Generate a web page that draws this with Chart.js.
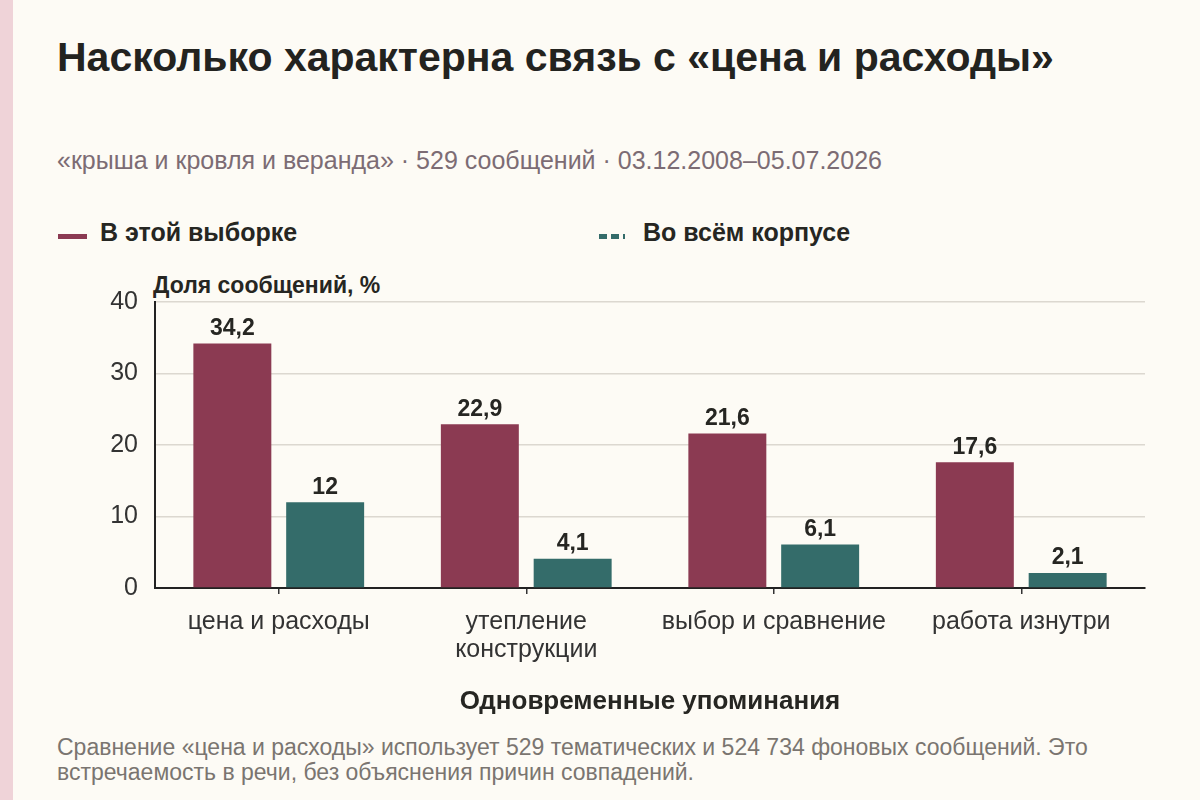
<!DOCTYPE html>
<html>
<head>
<meta charset="utf-8">
<script src="https://cdn.jsdelivr.net/npm/chart.js@4"></script>
<style>
  html, body { margin: 0; padding: 0; }
  body {
    width: 1200px; height: 800px; overflow: hidden; position: relative;
    background: #fdfbf5; font-family: "Liberation Sans", Arial, sans-serif; color: #222;
  }
  .band { position: absolute; left: 0; top: 0; width: 13px; height: 800px; background: #efd3d8; }
  .title { position: absolute; left: 57px; top: 34px; font-size: 41px; font-weight: bold; color: #23231f; white-space: nowrap; }
  .sub { position: absolute; left: 57px; top: 146px; font-size: 25px; color: #7c6c74; white-space: nowrap; }
  .leg { position: absolute; top: 218px; font-size: 25px; font-weight: bold; color: #262622; white-space: nowrap; }
  .leg canvas { position: absolute; left: -44px; top: 15px; }
  .ytitle { position: absolute; left: 153px; top: 272px; font-size: 23px; font-weight: bold; color: #262622; white-space: nowrap; }
  .note { position: absolute; left: 57px; top: 735px; font-size: 23px; line-height: 25px; color: #7a7570; width: 1140px; }
  #wrap { position: absolute; left: 0; top: 262px; width: 1200px; height: 458px; }
</style>
</head>
<body>
<div class="band"></div>
<div class="title">Насколько характерна связь с «цена и расходы»</div>
<div class="sub">«крыша и кровля и веранда» · 529 сообщений · 03.12.2008–05.07.2026</div>
<div class="leg" style="left:100px"><canvas id="sw1" width="32" height="8"></canvas>В этой выборке</div>
<div class="leg" style="left:643px"><canvas id="sw2" width="32" height="8"></canvas>Во всём корпусе</div>
<div class="ytitle">Доля сообщений, %</div>
<div id="wrap"><canvas id="chart"></canvas></div>
<div class="note">Сравнение «цена и расходы» использует 529 тематических и 524 734 фоновых сообщений. Это<br>встречаемость в речи, без объяснения причин совпадений.</div>

<script>
const categories = ["цена и расходы", ["утепление", "конструкции"], "выбор и сравнение", "работа изнутри"];
const sampleShare = [34.2, 22.9, 21.6, 17.6];
const corpusShare = [12, 4.1, 6.1, 2.1];
const seriesNames = ["В этой выборке", "Во всём корпусе"];
const yTicks = [0, 10, 20, 30, 40];

const red = "#8b3a52";
const teal = "#346c6a";
const fam = "'Liberation Sans', Arial, sans-serif";

// legend swatches
let s1 = document.getElementById("sw1").getContext("2d");
s1.fillStyle = red;
s1.fillRect(2, 1, 29, 5);
let s2 = document.getElementById("sw2").getContext("2d");
s2.fillStyle = teal;
s2.fillRect(0, 1, 8, 5);
s2.fillRect(12, 1, 8, 5);
s2.fillRect(24, 1, 2, 5);

const valueLabels = {
  id: "valueLabels",
  afterDatasetsDraw(chart) {
    const c = chart.ctx;
    c.save();
    c.font = "bold 23px " + fam;
    c.fillStyle = "#262622";
    c.textAlign = "center";
    c.textBaseline = "middle";
    chart.data.datasets.forEach((ds, i) => {
      chart.getDatasetMeta(i).data.forEach((bar, j) => {
        c.fillText(String(ds.data[j]).replace(".", ","), bar.x, bar.y - 15);
      });
    });
    c.restore();
  },
};

new Chart(document.getElementById("chart"), {
  type: "bar",
  data: {
    labels: categories,
    datasets: [
      { label: seriesNames[0], data: sampleShare, backgroundColor: red },
      { label: seriesNames[1], data: corpusShare, backgroundColor: teal },
    ],
  },
  options: {
    responsive: true,
    maintainAspectRatio: false,
    animation: false,
    categoryPercentage: 0.75,
    barPercentage: 0.84,
    layout: { padding: { left: 0, right: 55, top: 40, bottom: 0 } },
    plugins: { legend: { display: false }, tooltip: { enabled: false } },
    scales: {
      x: {
        grid: { offset: false, drawOnChartArea: false, drawTicks: true, tickLength: 6, color: "#333", lineWidth: 1.5 },
        border: { display: true, color: "#222", width: 2 },
        ticks: { color: "#333", font: { size: 25, family: fam, lineHeight: 1.12 }, padding: 14, maxRotation: 0 },
        title: {
          display: true,
          text: "Одновременные упоминания",
          color: "#262622",
          font: { size: 26, weight: "bold", family: fam },
          padding: { top: 0, bottom: 3 },
        },
        afterFit(s) { s.height = 132; },
      },
      y: {
        min: 0,
        max: 40,
        afterBuildTicks(s) { s.ticks = yTicks.map((v) => ({ value: v })); },
        grid: { color: "#dcd8d0", lineWidth: 1.5, drawTicks: false },
        border: { display: true, color: "#222", width: 2 },
        ticks: { color: "#333", font: { size: 25, family: fam }, padding: 17 },
        afterFit(s) { s.width = 155; },
      },
    },
  },
  plugins: [valueLabels],
});
</script>
</body>
</html>
